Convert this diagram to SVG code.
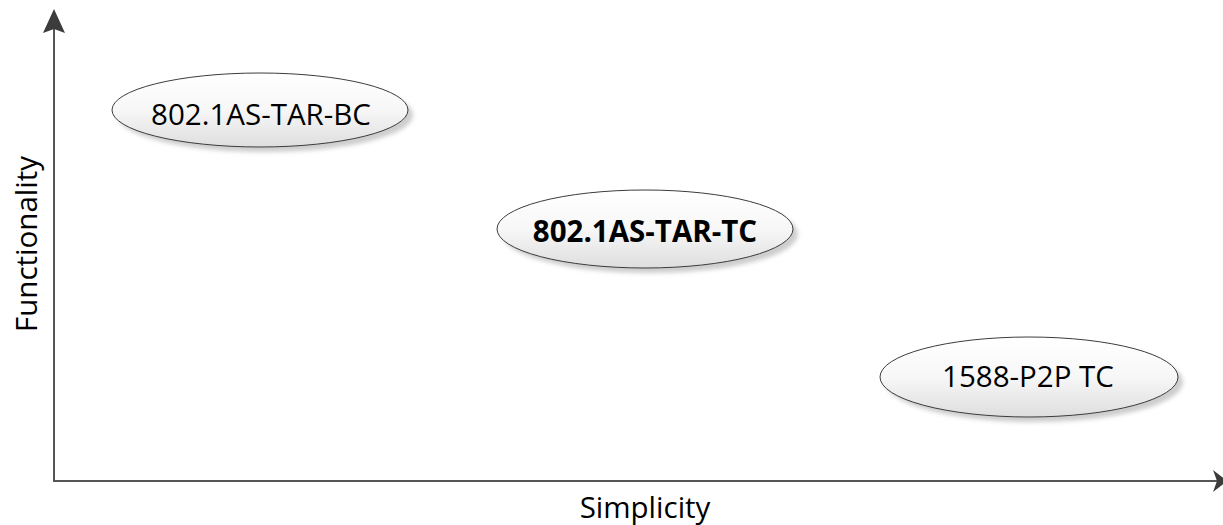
<svg xmlns="http://www.w3.org/2000/svg" width="1223" height="525" viewBox="0 0 1223 525">
  <style>
    .node { fill: url(#nodeFill); stroke: #3c3c3c; stroke-width: 1; }
    .shadow { fill: #cdcdcd; filter: url(#soft); }
    .label { font-family: "Open Sans", "Liberation Sans", sans-serif; font-size: 29.5px; fill: #000; text-anchor: middle; }
    .axis { stroke: #555; stroke-width: 2; fill: none; }
    .axis-label { font-family: "Open Sans", "Liberation Sans", sans-serif; font-size: 29.5px; fill: #000; text-anchor: middle; }
  </style>
  <defs>
    <linearGradient id="nodeFill" x1="0" y1="0" x2="0" y2="1">
      <stop offset="0" stop-color="#ffffff"/>
      <stop offset="0.5" stop-color="#f7f7f7"/>
      <stop offset="1" stop-color="#dedede"/>
    </linearGradient>
    <filter id="soft" x="-10%" y="-20%" width="120%" height="140%">
      <feGaussianBlur stdDeviation="2"/>
    </filter>
  </defs>

  <rect width="1223" height="525" fill="#ffffff"/>

  <!-- axes with filled arrowheads -->
  <g id="connectors">
    <path class="axis" d="M54,482 L54,14"/>
    <path d="M54,9 L65,33 L54,29 L43,33 Z" fill="#3c3c3c"/>
    <path class="axis" d="M53,481 L1218,481"/>
    <path d="M1227,481 L1213,470 L1217,481 L1213,492 Z" fill="#3c3c3c"/>
  </g>

  <g id="axis-x-label">
    <text class="axis-label" x="645" y="518">Simplicity</text>
  </g>
  <g id="axis-y-label">
    <text class="axis-label" transform="translate(37,244) rotate(-90)" x="0" y="0">Functionality</text>
  </g>

  <g id="node-bc">
    <ellipse class="shadow" cx="265" cy="115" rx="148" ry="37"/>
    <ellipse class="node" cx="260" cy="110" rx="148" ry="37"/>
    <text class="label" x="261" y="125">802.1AS-TAR-BC</text>
  </g>

  <g id="node-tar-tc">
    <ellipse class="shadow" cx="650" cy="234" rx="148" ry="39"/>
    <ellipse class="node" cx="645" cy="229" rx="148" ry="39"/>
    <text class="label" x="645" y="242" font-weight="bold">802.1AS-TAR-TC</text>
  </g>

  <g id="node-p2p-tc">
    <ellipse class="shadow" cx="1034" cy="382" rx="149" ry="40"/>
    <ellipse class="node" cx="1029" cy="377" rx="149" ry="40"/>
    <text class="label" x="1028" y="387">1588-P2P TC</text>
  </g>
</svg>
